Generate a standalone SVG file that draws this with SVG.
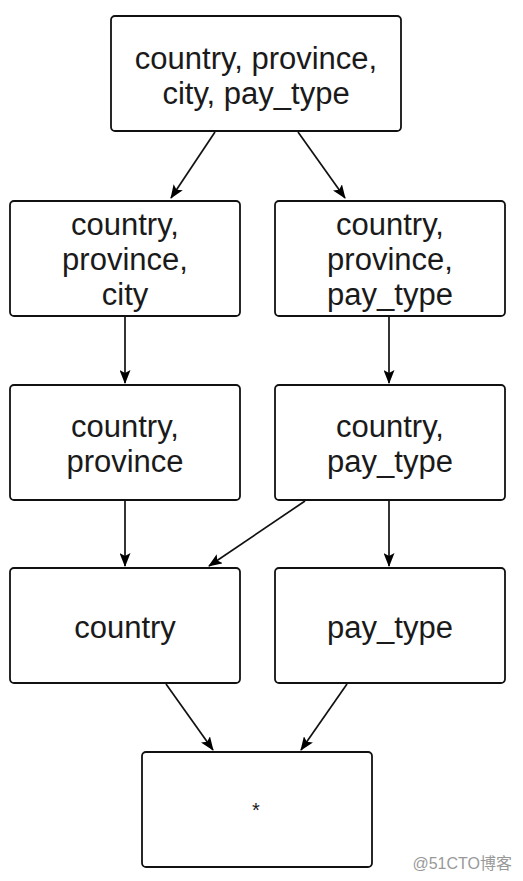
<svg xmlns="http://www.w3.org/2000/svg" width="523" height="881" viewBox="0 0 523 881">
<style>
.box{fill:#fff;stroke:#111;stroke-width:1.8}
.t{font-family:"Liberation Sans",Arial,sans-serif;font-size:31px;fill:#1a1a1a;text-anchor:middle}
.e{stroke:#111;stroke-width:1.7;fill:none;marker-end:url(#ah)}
</style>
<defs>
<marker id="ah" viewBox="0 0 14 11" refX="13" refY="5.5" markerWidth="14" markerHeight="11" markerUnits="userSpaceOnUse" orient="auto">
<path d="M0,0 L14,5.5 L0,11 L3,5.5 Z" fill="#000"/>
</marker>
</defs>
<rect width="523" height="881" fill="#fff"/>
<g id="connectors">
<line class="e" x1="215" y1="132" x2="171" y2="198"/>
<line class="e" x1="298" y1="132" x2="345" y2="198"/>
<line class="e" x1="125" y1="317" x2="125" y2="383"/>
<line class="e" x1="389" y1="317" x2="389" y2="383"/>
<line class="e" x1="125" y1="501" x2="125" y2="566"/>
<line class="e" x1="389" y1="501" x2="389" y2="566"/>
<line class="e" x1="305" y1="501" x2="209" y2="566"/>
<line class="e" x1="166" y1="684" x2="213" y2="750"/>
<line class="e" x1="347" y1="684" x2="301" y2="750"/>
</g>
<g id="n_all">
<rect class="box" x="111" y="16" width="290" height="115" rx="4"/>
<text class="t" x="256" y="69">country, province,</text>
<text class="t" x="256" y="104">city, pay_type</text>
</g>
<g id="n_cpc">
<rect class="box" x="10" y="201" width="230" height="115" rx="4"/>
<text class="t" x="125" y="235">country,</text>
<text class="t" x="125" y="270">province,</text>
<text class="t" x="125" y="305">city</text>
</g>
<g id="n_cpp">
<rect class="box" x="275" y="201" width="230" height="115" rx="4"/>
<text class="t" x="390" y="235">country,</text>
<text class="t" x="390" y="270">province,</text>
<text class="t" x="390" y="305">pay_type</text>
</g>
<g id="n_cp">
<rect class="box" x="10" y="385" width="230" height="115" rx="4"/>
<text class="t" x="125" y="437">country,</text>
<text class="t" x="125" y="472">province</text>
</g>
<g id="n_cpt">
<rect class="box" x="275" y="385" width="230" height="115" rx="4"/>
<text class="t" x="390" y="437">country,</text>
<text class="t" x="390" y="472">pay_type</text>
</g>
<g id="n_c">
<rect class="box" x="10" y="568" width="230" height="115" rx="4"/>
<text class="t" x="125" y="638">country</text>
</g>
<g id="n_pt">
<rect class="box" x="275" y="568" width="230" height="115" rx="4"/>
<text class="t" x="390" y="638">pay_type</text>
</g>
<g id="n_star">
<rect class="box" x="142" y="752" width="230" height="115" rx="4"/>
<text class="t" x="256" y="817" style="font-size:20px">*</text>
</g>
<text x="512" y="869" style="font-family:'Liberation Sans','Noto Sans CJK SC',sans-serif;font-size:16px;fill:#999;text-anchor:end">@51CTO博客</text>
</svg>
